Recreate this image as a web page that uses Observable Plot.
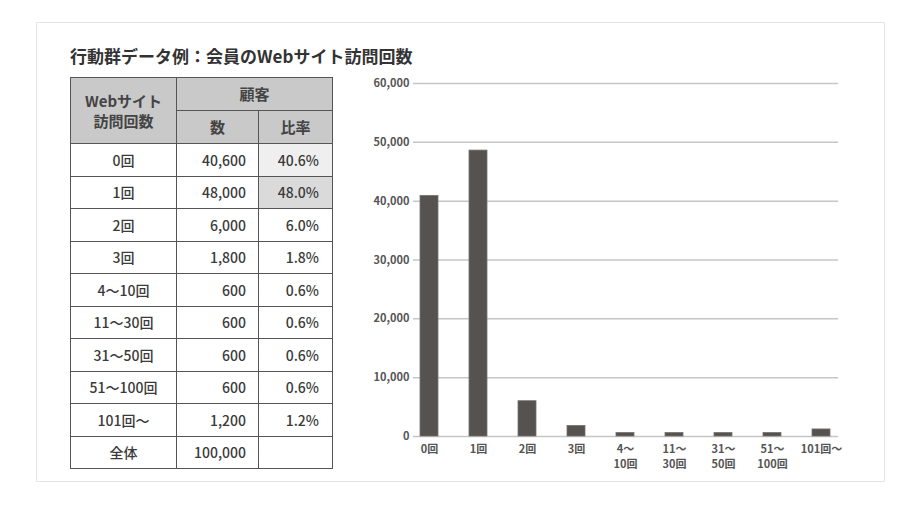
<!DOCTYPE html>
<html lang="ja">
<head>
<meta charset="utf-8">
<script src="https://cdn.jsdelivr.net/npm/d3@7"></script>
<script src="https://cdn.jsdelivr.net/npm/@observablehq/plot@0.6"></script>
<style>
  html, body { margin: 0; padding: 0; background: #fff; }
  body { width: 916px; height: 514px; position: relative; overflow: hidden;
         font-family: "Noto Sans CJK JP", "Noto Sans", sans-serif; color: #3a3a3a; }
  #card { position: absolute; left: 36px; top: 22px; width: 849px; height: 460px;
          border: 1px solid #e4e4e4; box-sizing: border-box; }
  #title { position: absolute; left: 70px; top: 46px; font-size: 17px; font-weight: bold;
           letter-spacing: 0px; line-height: 20px; color: #333; white-space: nowrap; }
  #tbl { position: absolute; left: 70px; top: 77px; border-collapse: collapse;
         font-size: 14px; font-weight: 500; color: #3a3a3a; }
  #tbl td, #tbl th { border: 1.5px solid #555; padding: 0; box-sizing: border-box; }
  #tbl th { background: #c9c9c9; font-weight: bold; height: 33px; font-size: 15px; line-height: 20px; color: #444; }
  #tbl td { height: 32.5px; }
  #tbl td.c { text-align: center; }
  #tbl td.r { text-align: right; padding-right: 12px; }
  #tbl td.p { text-align: right; padding-right: 13px; }
  #chart { position: absolute; left: 360px; top: 60px; }
</style>
</head>
<body>
<div id="card"></div>
<div id="title">行動群データ例：会員のWebサイト訪問回数</div>
<table id="tbl"></table>
<div id="chart"></div>
<script>
// ---- data ----
const tableCategories = ["0回", "1回", "2回", "3回", "4～10回", "11～30回", "31～50回", "51～100回", "101回～"];
const chartLabels = ["0回", "1回", "2回", "3回", "4～\n10回", "11～\n30回", "31～\n50回", "51～\n100回", "101回～"];
const customerCounts = [40600, 48000, 6000, 1800, 600, 600, 600, 600, 1200];
const customerRatios = [40.6, 48.0, 6.0, 1.8, 0.6, 0.6, 0.6, 0.6, 1.2];
const totalLabel = "全体";
const totalCount = 100000;
const chartValues = [40900, 48600, 6000, 1800, 600, 600, 600, 600, 1200];
const yTicks = [0, 10000, 20000, 30000, 40000, 50000, 60000];
const highlightBg = ["#efefef", "#dadada"];

// ---- table ----
const fmt = d3.format(",");
const tbl = document.getElementById("tbl");
let html = `<colgroup><col style="width:106px"><col style="width:82px"><col style="width:74px"></colgroup>`;
html += `<tr><th rowspan="2">Webサイト<br>訪問回数</th><th colspan="2">顧客</th></tr>`;
html += `<tr><th>数</th><th>比率</th></tr>`;
tableCategories.forEach((c, i) => {
  const bg = i < highlightBg.length ? ` style="background:${highlightBg[i]}"` : "";
  html += `<tr><td class="c">${c}</td><td class="r">${fmt(customerCounts[i])}</td><td class="p"${bg}>${customerRatios[i].toFixed(1)}%</td></tr>`;
});
html += `<tr><td class="c">${totalLabel}</td><td class="r">${fmt(totalCount)}</td><td></td></tr>`;
tbl.innerHTML = html;

// ---- chart ----
const data = chartLabels.map((label, i) => ({label, value: chartValues[i]}));
const chart = Plot.plot({
  width: 500,
  height: 420,
  marginLeft: 53,
  marginRight: 22,
  marginTop: 23,
  marginBottom: 44,
  style: {fontFamily: "'Noto Sans CJK JP', sans-serif", background: "transparent", overflow: "visible"},
  x: {domain: chartLabels, paddingInner: 0.63, paddingOuter: 0.14, axis: null, label: null},
  y: {domain: [0, 60000], axis: null, label: null},
  marks: [
    Plot.ruleY(yTicks, {stroke: "#c6c6c6", strokeWidth: 1.5}),
    Plot.barY(data, {x: "label", y: "value", fill: "#55524f", stroke: "#77736f", strokeWidth: 0.8}),
    Plot.axisY({ticks: yTicks, tickSize: 0, tickPadding: 4, tickFormat: d3.format(","), label: null,
                fontSize: 11, fontWeight: "bold", fill: "#555"}),
    Plot.axisX({tickSize: 0, tickPadding: 6, fontSize: 11, fontWeight: "bold", label: null,
                lineHeight: 1.35, fill: "#555"})
  ]
});
document.getElementById("chart").appendChild(chart);
</script>
</body>
</html>
